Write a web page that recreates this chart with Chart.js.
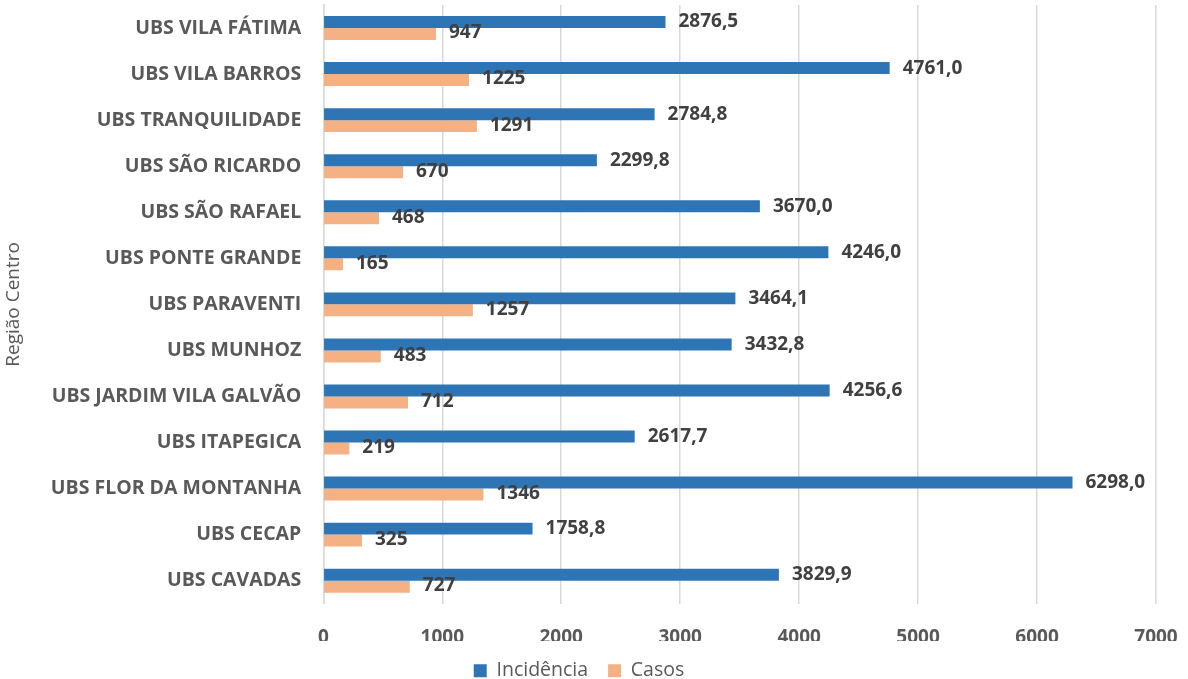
<!DOCTYPE html>
<html>
<head>
<meta charset="utf-8">
<script src="https://cdn.jsdelivr.net/npm/chart.js@4/dist/chart.umd.min.js"></script>
<style>
  html, body { margin: 0; padding: 0; background: #fff; }
</style>
</head>
<body>
<canvas id="myChart" width="1188" height="679"></canvas>
<script>
(function() {
    'use strict';

    var categories = ['UBS VILA FÁTIMA', 'UBS VILA BARROS', 'UBS TRANQUILIDADE', 'UBS SÃO RICARDO',
        'UBS SÃO RAFAEL', 'UBS PONTE GRANDE', 'UBS PARAVENTI', 'UBS MUNHOZ',
        'UBS JARDIM VILA GALVÃO', 'UBS ITAPEGICA', 'UBS FLOR DA MONTANHA', 'UBS CECAP', 'UBS CAVADAS'];
    var incidencia = [2876.5, 4761.0, 2784.8, 2299.8, 3670.0, 4246.0, 3464.1, 3432.8, 4256.6, 2617.7, 6298.0, 1758.8, 3829.9];
    var casos = [947, 1225, 1291, 670, 468, 165, 1257, 483, 712, 219, 1346, 325, 727];
    var xTicks = [0, 1000, 2000, 3000, 4000, 5000, 6000, 7000];

    var fontFamily = '"Open Sans", "Noto Sans", sans-serif';
    var legendPad = 20;

    //value labels drawn at the end of each bar
    var valueLabels = {
        id: 'valueLabels',
        afterDatasetsDraw: function(chart) {
            var c = chart.ctx;
            c.save();
            c.font = 'bold 19px ' + fontFamily;
            c.fillStyle = '#404040';
            c.textBaseline = 'middle';
            c.textAlign = 'left';
            chart.data.datasets.forEach(function(ds, di) {
                var meta = chart.getDatasetMeta(di);
                meta.data.forEach(function(bar, i) {
                    var v = ds.data[i];
                    var txt = di === 0 ? v.toFixed(1).replace('.', ',') : String(v);
                    c.fillText(txt, bar.x + 13, bar.y + (di === 0 ? 0 : -1));
                });
            });
            c.restore();
        }
    };

    //keep the legend box short, the padding is only wanted between the items
    var shortLegend = {
        id: 'shortLegend',
        beforeLayout: function(chart) {
            var lg = chart.legend;
            if (lg && !lg._shortFit) {
                var fit = lg.fit;
                lg.fit = function() {
                    fit.call(this);
                    this.height = legendPad + 18;
                };
                lg._shortFit = true;
            }
        }
    };

    var ctx = document.getElementById('myChart');
    new Chart(ctx, {
        type: 'bar',
        data: {
            labels: categories,
            datasets: [{
                label: 'Incidência',
                backgroundColor: '#2E75B6',
                data: incidencia
            }, {
                label: 'Casos',
                backgroundColor: '#F4B183',
                data: casos
            }]
        },
        options: {
            indexAxis: 'y',
            responsive: false,
            animation: false,
            layout: { padding: { top: 5, right: 32, left: 2, bottom: 0 } },
            datasets: {
                bar: { categoryPercentage: 0.52, barPercentage: 1.0 }
            },
            scales: {
                x: {
                    min: 0,
                    max: 7000,
                    afterBuildTicks: function(axis) {
                        axis.ticks = xTicks.map(function(v) { return { value: v }; });
                    },
                    afterFit: function(axis) { axis.height -= 9.5; },
                    grid: { color: '#d9d9d9', lineWidth: 1.5, drawTicks: true, tickLength: 20, tickColor: 'rgba(0,0,0,0)' },
                    border: { display: false },
                    ticks: {
                        color: '#595959',
                        padding: 2,
                        font: { family: fontFamily, size: 19, weight: 'bold' },
                        callback: function(v) { return String(v); }
                    }
                },
                y: {
                    grid: { display: true, drawOnChartArea: false, drawTicks: true, tickLength: 22, tickColor: 'rgba(0,0,0,0)' },
                    border: { color: '#d9d9d9', width: 1.5 },
                    title: {
                        display: true,
                        text: 'Região Centro',
                        color: '#595959',
                        padding: { top: 0, bottom: 26 },
                        font: { family: fontFamily, size: 19 }
                    },
                    ticks: {
                        color: '#595959',
                        padding: 0,
                        font: { family: fontFamily, size: 19.5, weight: 'bold', lineHeight: 0.5 }
                    }
                }
            },
            plugins: {
                legend: {
                    position: 'bottom',
                    labels: {
                        color: '#595959',
                        boxWidth: 13,
                        boxHeight: 13,
                        padding: legendPad,
                        font: { family: fontFamily, size: 19.5, lineHeight: 1.0 }
                    }
                },
                tooltip: { enabled: false }
            }
        },
        plugins: [valueLabels, shortLegend]
    });
})();
</script>
</body>
</html>
